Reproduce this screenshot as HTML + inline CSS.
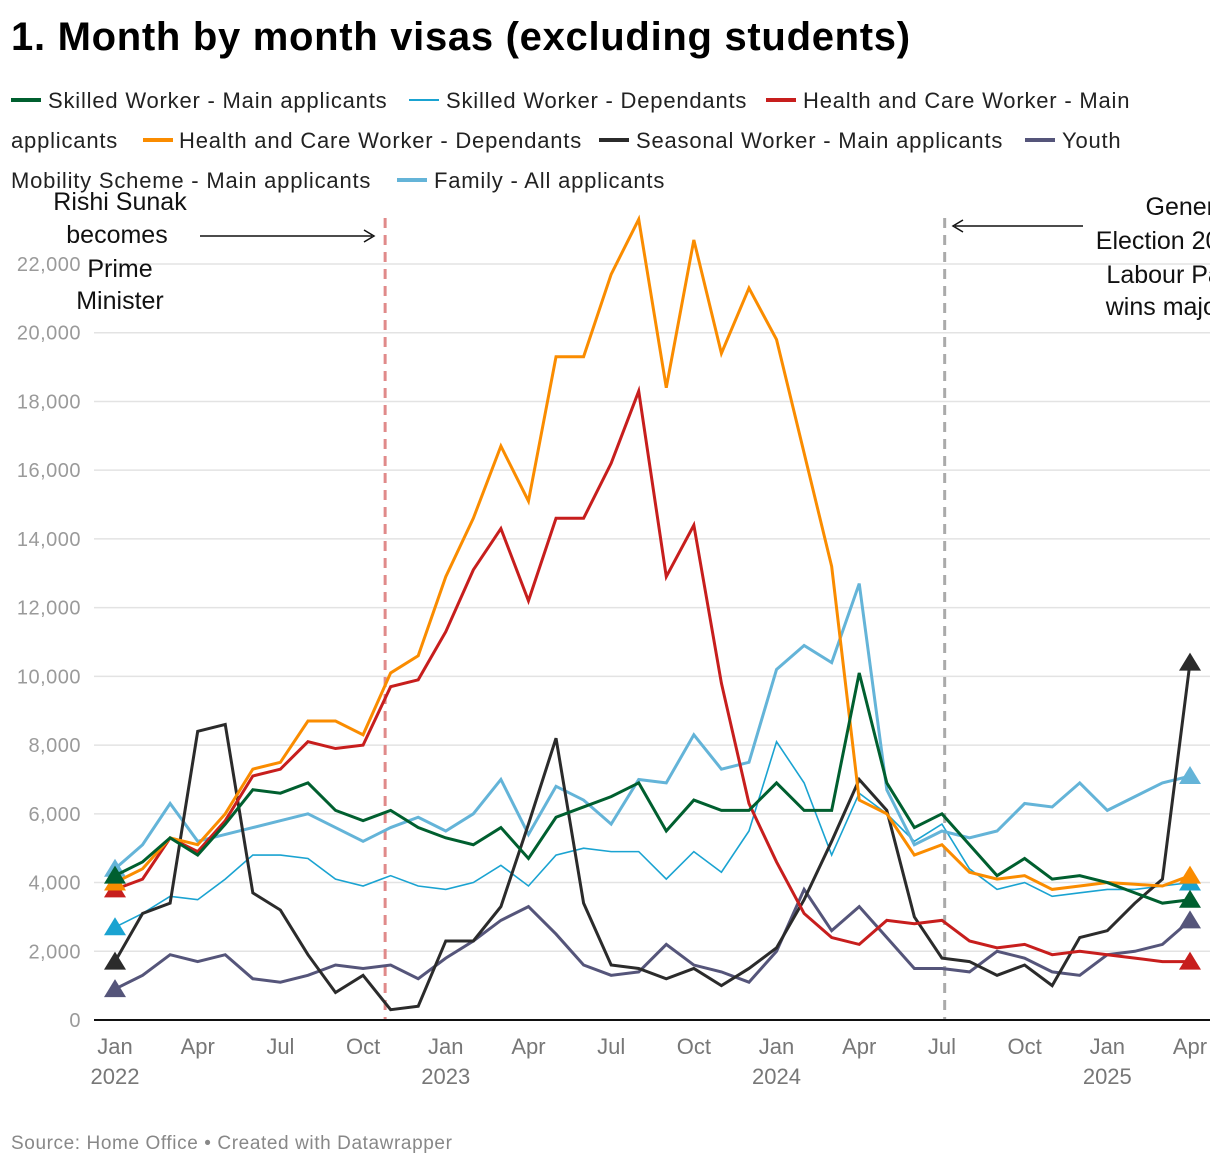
<!DOCTYPE html>
<html><head><meta charset="utf-8"><style>
body{margin:0;background:#fff;width:1220px;height:1166px;overflow:hidden;font-family:"Liberation Sans",sans-serif}
svg{display:block}
</style></head><body>
<svg id="c" width="1220" height="1166" viewBox="0 0 1220 1166">
<defs><clipPath id="clip"><rect x="0" y="0" width="1210" height="1166"/></clipPath></defs>
<text x="11" y="50" font-size="40" font-weight="bold" fill="#000" letter-spacing="0.7">1. Month by month visas (excluding students)</text>
<g id="legend" font-size="22" fill="#222" letter-spacing="0.8">
<g><line x1="11" x2="41" y1="100" y2="100" stroke="#005f2f" stroke-width="4"/><text x="48" y="108">Skilled Worker - Main applicants</text></g>
<g><line x1="409" x2="439" y1="100" y2="100" stroke="#1aa3d1" stroke-width="2"/><text x="446" y="108">Skilled Worker - Dependants</text></g>
<g><line x1="766" x2="796" y1="100" y2="100" stroke="#c71e1d" stroke-width="4"/><text x="803" y="108">Health and Care Worker - Main</text><text x="11" y="148">applicants</text></g>
<g><line x1="143" x2="173" y1="140" y2="140" stroke="#fa8c00" stroke-width="4"/><text x="179" y="148">Health and Care Worker - Dependants</text></g>
<g><line x1="599" x2="629" y1="140" y2="140" stroke="#2b2b2b" stroke-width="4"/><text x="636" y="148">Seasonal Worker - Main applicants</text></g>
<g><line x1="1025" x2="1055" y1="140" y2="140" stroke="#55557a" stroke-width="4"/><text x="1062" y="148">Youth</text><text x="11" y="188">Mobility Scheme - Main applicants</text></g>
<g><line x1="397" x2="427" y1="180" y2="180" stroke="#64b4d8" stroke-width="4"/><text x="434" y="188">Family - All applicants</text></g>
</g>
<g clip-path="url(#clip)">
<g id="grid"></g>
<g id="lines"></g>
<g id="anno" font-size="25" fill="#111" text-anchor="middle">
<g>
<text x="120" y="210">Rishi Sunak</text><text x="117" y="243">becomes</text><text x="120" y="277">Prime</text><text x="120" y="309">Minister</text>
<line x1="200" x2="372" y1="236" y2="236" stroke="#111" stroke-width="1.5"/><path d="M364 230 L374 236 L364 242" fill="none" stroke="#111" stroke-width="1.5"/>
</g>
<g>
<text x="1190" y="215">General</text><text x="1175" y="249">Election 2024:</text><text x="1178" y="283">Labour Party</text><text x="1178" y="315">wins majority</text>
<line x1="955" x2="1083" y1="226" y2="226" stroke="#111" stroke-width="1.5"/><path d="M963 220 L953 226 L963 232" fill="none" stroke="#111" stroke-width="1.5"/>
</g>
</g>
</g>
<text x="11" y="1149" font-size="19" fill="#888" letter-spacing="0.6">Source: Home Office • Created with Datawrapper</text>
</svg>
<script>
const yTicks=[0,2000,4000,6000,8000,10000,12000,14000,16000,18000,20000,22000];
const xTickIdx=[0,3,6,9,12,15,18,21,24,27,30,33,36,39];
const xTickLabels=["Jan","Apr","Jul","Oct","Jan","Apr","Jul","Oct","Jan","Apr","Jul","Oct","Jan","Apr"];
const xTickYears=["2022","","","","2023","","","","2024","","","","2025",""];
const skilledMain=[4200,4600,5300,4800,5700,6700,6600,6900,6100,5800,6100,5600,5300,5100,5600,4700,5900,6200,6500,6900,5500,6400,6100,6100,6900,6100,6100,10100,6900,5600,6000,5100,4200,4700,4100,4200,4000,3700,3400,3500];
const skilledDep=[2700,3100,3600,3500,4100,4800,4800,4700,4100,3900,4200,3900,3800,4000,4500,3900,4800,5000,4900,4900,4100,4900,4300,5500,8100,6900,4800,6600,6000,5200,5700,4400,3800,4000,3600,3700,3800,3800,3900,4000];
const healthMain=[3800,4100,5300,4900,5800,7100,7300,8100,7900,8000,9700,9900,11300,13100,14300,12200,14600,14600,16200,18300,12900,14400,9800,6300,4600,3100,2400,2200,2900,2800,2900,2300,2100,2200,1900,2000,1900,1800,1700,1700];
const healthDep=[4000,4400,5300,5100,6000,7300,7500,8700,8700,8300,10100,10600,12900,14600,16700,15100,19300,19300,21700,23300,18400,22700,19400,21300,19800,16500,13200,6400,6000,4800,5100,4300,4100,4200,3800,3900,4000,3950,3900,4200];
const seasonal=[1700,3100,3400,8400,8600,3700,3200,1900,800,1300,300,400,2300,2300,3300,5700,8200,3400,1600,1500,1200,1500,1000,1500,2100,3500,5200,7000,6100,3000,1800,1700,1300,1600,1000,2400,2600,3400,4100,10400];
const youth=[900,1300,1900,1700,1900,1200,1100,1300,1600,1500,1600,1200,1800,2300,2900,3300,2500,1600,1300,1400,2200,1600,1400,1100,2000,3800,2600,3300,2400,1500,1500,1400,2000,1800,1400,1300,1900,2000,2200,2900];
const family=[4400,5100,6300,5200,5400,5600,5800,6000,5600,5200,5600,5900,5500,6000,7000,5400,6800,6400,5700,7000,6900,8300,7300,7500,10200,10900,10400,12700,6700,5100,5500,5300,5500,6300,6200,6900,6100,6500,6900,7100];
const sunakIdx=9.8, electionIdx=30.1;

const NS="http://www.w3.org/2000/svg";
const X=i=>115+i*(1075/39);
const Y=v=>1020-v*(756/22000);
function mk(tag,attrs,parent){const e=document.createElementNS(NS,tag);for(const k in attrs)e.setAttribute(k,attrs[k]);parent.appendChild(e);return e;}
const grid=document.getElementById('grid'), lines=document.getElementById('lines');
yTicks.forEach(v=>{
  if(v>0){const g=mk('line',{x1:94,x2:1220,y1:Y(v),y2:Y(v),stroke:'#e3e3e3','stroke-width':1.5},grid);
  
  }
  const t=mk('text',{x:81,y:Y(v)+7,'text-anchor':'end','font-size':20,fill:'#9a9a9a','letter-spacing':0.5},grid);
  t.textContent=v.toLocaleString('en-US');
  
  
});
xTickIdx.forEach((idx,k)=>{
  const t=mk('text',{x:X(idx),y:1054,'text-anchor':'middle','font-size':22,fill:'#777'},grid);
  t.textContent=xTickLabels[k];
  
  
  if(xTickYears[k]){const y=mk('text',{x:X(idx),y:1084,'text-anchor':'middle','font-size':22,fill:'#777'},grid);
  y.textContent=xTickYears[k];
  
  }
});
const vl1=mk('line',{x1:X(sunakIdx),x2:X(sunakIdx),y1:218,y2:1020,stroke:'#e08a8a','stroke-width':3,'stroke-dasharray':'10,7'},grid);


const vl2=mk('line',{x1:X(electionIdx),x2:X(electionIdx),y1:218,y2:1020,stroke:'#aaa','stroke-width':3,'stroke-dasharray':'10,7'},grid);


const ax=mk('line',{x1:94,x2:1220,y1:1020,y2:1020,stroke:'#111','stroke-width':2},grid);


const series=[[skilledDep,'#1aa3d1',1.6,'skilled-dependants'],[youth,'#55557a',3,'youth-mobility'],[family,'#64b4d8',3,'family'],[seasonal,'#2b2b2b',3,'seasonal-worker'],[healthMain,'#c71e1d',3,'health-care-main'],[healthDep,'#fa8c00',3,'health-care-dependants'],[skilledMain,'#005f2f',3,'skilled-main']];
series.forEach(([d,c,w,n])=>{
  const p=mk('polyline',{points:d.map((v,i)=>X(i)+','+Y(v)).join(' '),fill:'none',stroke:c,'stroke-width':w,'stroke-linejoin':'miter'},lines);
  
  
  [0,d.length-1].forEach(i=>{
    const x=X(i),y=Y(d[i]);
    const t=mk('path',{d:`M${x} ${y-10} L${x+11} ${y+8} L${x-11} ${y+8} Z`,fill:c},lines);
    
    
  });
});
</script>
</body></html>
